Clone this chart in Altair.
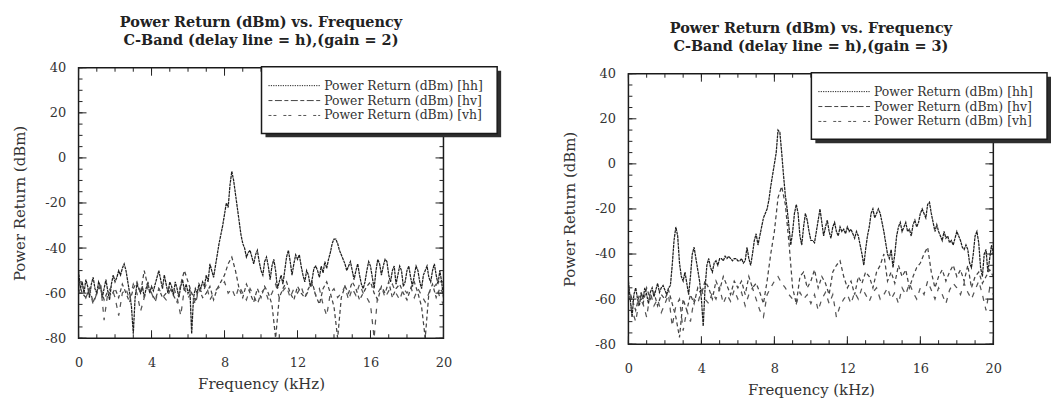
import altair as alt
import pandas as pd

# ---------------- data ----------------
FREQ_FINE = [i / 10 for i in range(201)]     # 0.1 kHz sampling
FREQ_COARSE = [i / 5 for i in range(101)]    # 0.2 kHz sampling

SERIES = ["Power Return (dBm) [hh]", "Power Return (dBm) [hv]", "Power Return (dBm) [vh]"]
TITLE_L = ["Power Return (dBm) vs. Frequency", "C-Band (delay line = h),(gain = 2)"]
TITLE_R = ["Power Return (dBm) vs. Frequency", "C-Band (delay line = h),(gain = 3)"]
X_LABELS = [0, 4, 8, 12, 16, 20]
Y_LABELS = [-80, -60, -40, -20, 0, 20, 40]
X_MINOR = list(range(0, 21))
Y_MINOR = list(range(-80, 41, 5))

# gain = 2
HH_L = [-50, -58, -55, -60, -54, -57, -62, -56, -53, -58, -60,
        -55, -57, -62, -58, -54, -59, -63, -56, -52, -55,
        -53, -50, -52, -49, -47, -50, -55, -60, -66, -78,
        -62, -56, -58, -60, -57, -62, -58, -55, -60, -57,
        -59, -56, -53, -50, -54, -58, -52, -56, -60, -55,
        -57, -61, -55, -58, -62, -57, -54, -59, -56, -60,
        -58, -78, -62, -58, -60, -56, -58, -55, -57, -52,
        -55, -47, -50, -53, -48, -43, -38, -34, -30, -25,
        -20, -22, -12, -6, -10, -16, -22, -28, -34, -38,
        -40, -44, -42, -41, -44, -47, -43, -41, -46, -50,
        -52, -46, -44, -48, -54, -48, -45, -50, -58, -55,
        -52, -56, -50, -44, -41, -46, -52, -47, -43, -45,
        -43, -48, -52, -55, -50, -52, -57, -54, -49, -48,
        -50, -53, -48, -51, -46, -49, -45, -42, -38, -36,
        -36, -38, -41, -43, -45, -47, -50, -48, -46, -50,
        -54, -50, -47, -52, -56, -58, -55, -50, -46, -48,
        -53, -58, -50, -45, -47, -52, -48, -45, -46, -52,
        -55, -50, -48, -56, -52, -48, -50, -57, -55, -50,
        -48, -53, -57, -52, -48, -50, -55, -58, -52, -50,
        -48, -53, -55, -50, -47, -52, -56, -50, -55, -62]
HV_L = [-55, -60, -62, -58, -64, -60, -57, -63, -59, -61,
        -58, -62, -56, -60, -64, -58, -55, -60, -50, -57,
        -60, -63, -58, -62, -60, -57, -61, -64, -56, -50,
        -55, -60, -63, -58, -62, -60, -57, -63, -58, -55,
        -52, -47, -44, -50, -58, -62, -56, -60, -64, -58,
        -62, -57, -60, -65, -80, -62, -58, -55, -60, -63,
        -57, -60, -62, -58, -55, -61, -65, -58, -55, -60,
        -66, -80, -62, -57, -60, -55, -58, -63, -60, -57,
        -55, -60, -63, -57, -60, -55, -62, -58, -56, -60,
        -63, -58, -55, -60, -66, -80, -60, -56, -62, -58,
        -60]
VH_L = [-60, -56, -62, -58, -65, -60, -55, -72, -60, -57,
        -62, -70, -60, -58, -63, -56, -60, -68, -62, -57,
        -60, -64, -58, -61, -63, -59, -57, -62, -70, -58,
        -62, -60, -65, -58, -60, -56, -63, -60, -58, -57,
        -55, -60, -58, -62, -57, -60, -63, -58, -61, -65,
        -60, -58, -63, -60, -56, -62, -59, -57, -62, -58,
        -60, -57, -62, -59, -56, -61, -58, -65, -70, -60,
        -58, -62, -60, -57, -63, -58, -61, -56, -60, -62,
        -65, -80, -60, -57, -62, -59, -56, -60, -63, -58,
        -60, -57, -62, -58, -61, -64, -60, -58, -56, -62,
        -65]

# gain = 3
HH_R = [-52, -60, -68, -58, -55, -60, -63, -57, -60, -55, -58,
        -62, -57, -55, -59, -56, -53, -57, -55, -54, -56,
        -58, -55, -54, -45, -34, -28, -32, -44, -50, -52,
        -48, -53, -58, -50, -40, -37, -42, -47, -52, -60,
        -72, -55, -45, -42, -46, -48, -44, -43, -45, -42,
        -42, -43, -41, -42, -41, -42, -43, -42, -42, -43,
        -43, -42, -44, -43, -37, -42, -45, -40, -34, -31,
        -36, -32, -28, -24, -22, -20, -16, -10, -5, 0,
        5, 15, 14, 5, -5, -14, -20, -28, -36, -30,
        -22, -18, -22, -32, -36, -28, -22, -25, -30, -34,
        -34, -35, -30, -25, -20, -26, -32, -28, -25, -30,
        -33, -28, -26, -30, -32, -28, -30, -29, -31, -28,
        -30, -29, -31, -33, -30, -32, -36, -40, -45, -38,
        -32, -28, -22, -20, -24, -22, -20, -22, -26, -30,
        -35, -40, -42, -38, -46, -40, -32, -28, -26, -30,
        -28, -26, -30, -29, -32, -27, -25, -28, -26, -22,
        -20, -22, -24, -18, -17, -22, -26, -30, -27, -30,
        -32, -34, -30, -33, -32, -35, -34, -36, -33, -30,
        -32, -34, -37, -38, -36, -38, -44, -46, -40, -32,
        -30, -35, -46, -50, -40, -38, -48, -42, -36, -40]
HV_R = [-55, -60, -65, -58, -62, -55, -60, -57, -63, -58,
        -60, -56, -62, -68, -77, -60, -65, -58, -62, -55,
        -58, -52, -55, -60, -52, -56, -50, -54, -58, -52,
        -55, -52, -58, -50, -55, -53, -57, -62, -52, -40,
        -30, -15, -10, -18, -35, -55, -62, -50, -48, -55,
        -52, -47, -55, -50, -53, -58, -48, -45, -43, -50,
        -55, -52, -58, -50, -53, -48, -50, -55, -48, -45,
        -40, -52, -48, -53, -45, -50, -47, -55, -50, -46,
        -44, -40, -37, -48, -55, -50, -47, -52, -48, -45,
        -50, -47, -52, -45, -55, -50, -48, -53, -50, -47,
        -50]
VH_R = [-58, -65, -70, -60, -62, -68, -57, -63, -60, -66,
        -62, -58, -72, -63, -60, -74, -65, -70, -60, -62,
        -56, -60, -62, -57, -60, -55, -62, -58, -61, -56,
        -60, -57, -63, -58, -55, -60, -65, -68, -58, -55,
        -52, -50, -53, -55, -58, -60, -62, -57, -60, -58,
        -62, -58, -65, -60, -57, -62, -58, -68, -63, -60,
        -58, -62, -57, -60, -55, -58, -61, -57, -55, -60,
        -58, -55, -60, -57, -62, -55, -58, -53, -57, -60,
        -55, -58, -52, -56, -60, -55, -58, -62, -56, -53,
        -55, -58, -53, -57, -60, -56, -52, -58, -65, -55,
        -58]

# ---------------- style ----------------
W, H = 367, 272
FONT = "DejaVu Serif"
LINE_DASHES = [[3, 0.7], [4, 3], [5, 6]]
LEGEND_DASHES = [[1.2, 1.2], [4, 2.5, 7, 2.5], [3, 2, 3, 7]]
COLORS = ["#1f1f1f", "#444444", "#555555"]
ONE = pd.DataFrame({"a": [0]})
XT = "Frequency (kHz)"
YT = "Power Return (dBm)"
HYPHEN = "'' + datum.value"


def panel(hh, hv, vh, title):
    df = pd.concat([
        pd.DataFrame({"f": FREQ_FINE, "v": hh, "s": SERIES[0]}),
        pd.DataFrame({"f": FREQ_COARSE, "v": hv, "s": SERIES[1]}),
        pd.DataFrame({"f": FREQ_COARSE, "v": vh, "s": SERIES[2]}),
    ])
    xs = alt.Scale(domain=[0, 20], nice=False, zero=False)
    ys = alt.Scale(domain=[-80, 40], nice=False, zero=False)
    lines = alt.Chart(df).mark_line(strokeWidth=1.25, clip=True).encode(
        x=alt.X("f:Q", scale=xs, title=XT,
                axis=alt.Axis(values=X_LABELS, ticks=False, domain=False, grid=False, labelFlush=False,
                              labelExpr=HYPHEN, labelPadding=18, titlePadding=8)),
        y=alt.Y("v:Q", scale=ys, title=YT,
                axis=alt.Axis(values=Y_LABELS, ticks=False, domain=False, grid=False, labelFlush=False,
                              labelExpr=HYPHEN, labelPadding=13, titlePadding=17)),
        color=alt.Color("s:N", scale=alt.Scale(domain=SERIES, range=COLORS), legend=None),
        strokeDash=alt.StrokeDash("s:N", scale=alt.Scale(domain=SERIES, range=LINE_DASHES), legend=None),
        order=alt.Order("f:Q"),
    )
    layers = [lines]
    # inward ticks on all four sides (same field names so the axes merge)
    for vals, ln in ((X_MINOR, 4), (X_LABELS, 8)):
        b = alt.Chart(pd.DataFrame({"f": vals})).mark_rule(color="#222", strokeWidth=1)
        layers.append(b.encode(x=alt.X("f:Q", scale=xs, title=XT), y=alt.value(H), y2=alt.value(H - ln)))
        layers.append(b.encode(x=alt.X("f:Q", scale=xs, title=XT), y=alt.value(0), y2=alt.value(ln)))
    for vals, ln in ((Y_MINOR, 4), (Y_LABELS, 8)):
        b = alt.Chart(pd.DataFrame({"v": vals})).mark_rule(color="#222", strokeWidth=1)
        layers.append(b.encode(y=alt.Y("v:Q", scale=ys, title=YT), x=alt.value(0), x2=alt.value(ln)))
        layers.append(b.encode(y=alt.Y("v:Q", scale=ys, title=YT), x=alt.value(W), x2=alt.value(W - ln)))
    # invisible layout anchor (sets the panel's top edge)
    layers.append(alt.Chart(ONE).mark_rule(opacity=0, strokeWidth=0).encode(
        x=alt.value(W / 2), y=alt.value(-60), y2=alt.value(-59)))
    # two-line panel title
    for i, line in enumerate(title):
        layers.append(alt.Chart(ONE).mark_text(text=line, align="center", baseline="middle", font=FONT,
                                               fontSize=14.5, fontWeight="bold", color="#222").encode(
            x=alt.value(W / 2), y=alt.value(-45 + 18 * i)))
    # legend box with drop shadow
    layers.append(alt.Chart(ONE).mark_rect(fill="#2e2e2e").encode(
        x=alt.value(188), x2=alt.value(425), y=alt.value(3), y2=alt.value(70)))
    layers.append(alt.Chart(ONE).mark_rect(fill="white", stroke="#1a1a1a", strokeWidth=1.5).encode(
        x=alt.value(184), x2=alt.value(421), y=alt.value(-1), y2=alt.value(66)))
    for i, (lab, dash, col) in enumerate(zip(SERIES, LEGEND_DASHES, COLORS)):
        yy = 18 + 15 * i
        layers.append(alt.Chart(ONE).mark_rule(strokeDash=dash, color=col, strokeWidth=1).encode(
            x=alt.value(191), x2=alt.value(243), y=alt.value(yy)))
        layers.append(alt.Chart(ONE).mark_text(text=lab, align="left", baseline="middle", font=FONT,
                                               fontSize=12.5, color="#333").encode(
            x=alt.value(247), y=alt.value(yy)))
    return alt.layer(*layers).properties(width=W, height=H)


def spacer(h):
    return alt.Chart(ONE).mark_rule(opacity=0, strokeWidth=0).encode(
        x=alt.value(0), y=alt.value(0), y2=alt.value(1)
    ).properties(width=10, height=h, view=alt.ViewBackground(stroke="transparent"))


left = alt.vconcat(spacer(1), panel(HH_L, HV_L, VH_L, TITLE_L), spacing=0)
right = alt.vconcat(spacer(7), panel(HH_R, HV_R, VH_R, TITLE_R), spacing=0)

chart = alt.hconcat(left, right, spacing=60).properties(
    padding={"left": 12, "top": 3, "right": 0, "bottom": 0},
    background="white",
).configure_view(stroke="#1a1a1a", strokeWidth=1.5).configure_axis(
    labelFont=FONT, labelFontSize=13, labelColor="#333",
    titleFont=FONT, titleFontSize=15, titleFontWeight="normal", titleColor="#333",
)

chart.save("out.html", embed_options={"renderer": "svg", "actions": False})
